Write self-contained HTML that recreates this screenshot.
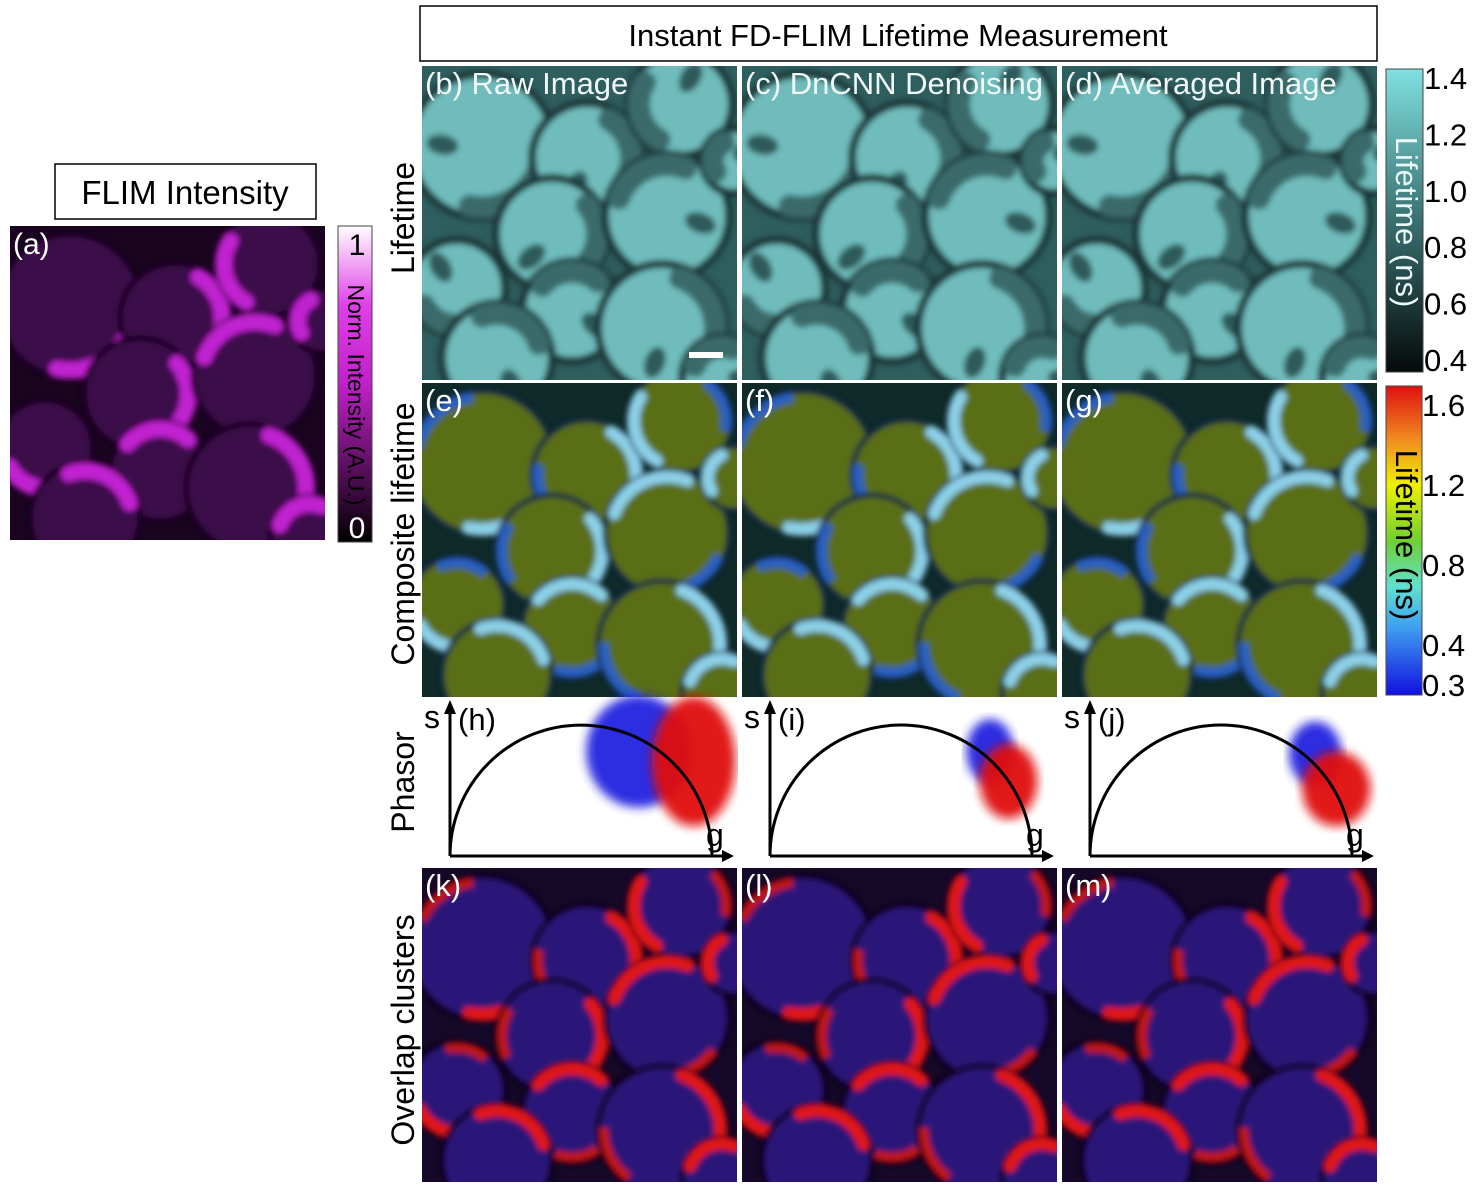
<!DOCTYPE html>
<html><head><meta charset="utf-8"><style>
body{margin:0;background:#fff;width:1480px;height:1184px;overflow:hidden;font-family:"Liberation Sans",sans-serif;}
</style></head><body>
<svg id="fig" width="1480" height="1184" xmlns="http://www.w3.org/2000/svg" font-family="Liberation Sans, sans-serif">
<defs>
<linearGradient id="gMag" x1="0" y1="1" x2="0" y2="0"><stop offset="0" stop-color="#000"/><stop offset="0.5" stop-color="#c020c8"/><stop offset="0.75" stop-color="#e040e8"/><stop offset="1" stop-color="#fff"/></linearGradient>
<linearGradient id="gCyan" x1="0" y1="1" x2="0" y2="0"><stop offset="0" stop-color="#050a0a"/><stop offset="0.5" stop-color="#3a7070"/><stop offset="1" stop-color="#80e0e0"/></linearGradient>
<linearGradient id="gRain" x1="0" y1="1" x2="0" y2="0"><stop offset="0" stop-color="#1010e0"/><stop offset="0.22" stop-color="#40a0f0"/><stop offset="0.35" stop-color="#60e0d0"/><stop offset="0.5" stop-color="#70d030"/><stop offset="0.68" stop-color="#f0f000"/><stop offset="0.82" stop-color="#f09020"/><stop offset="1" stop-color="#e01010"/></linearGradient>
<filter id="blur3"><feGaussianBlur stdDeviation="3"/></filter>
<filter id="blur6"><feGaussianBlur stdDeviation="5"/></filter>
<clipPath id="clipP"><rect x="0" y="0" width="315" height="314"/></clipPath>
</defs>
<g id="panels"></g>
<rect x="55" y="164" width="261" height="55" fill="#fff" stroke="#000" stroke-width="1.5"/>
<text x="185" y="204" font-size="33" text-anchor="middle">FLIM Intensity</text>
<rect x="420" y="6" width="957" height="55" fill="#fff" stroke="#000" stroke-width="1.5"/>
<text x="898" y="46" font-size="31" text-anchor="middle">Instant FD-FLIM Lifetime Measurement</text>
<text transform="translate(414,218) rotate(-90)" font-size="32" text-anchor="middle">Lifetime</text>
<text transform="translate(414,534) rotate(-90)" font-size="32" text-anchor="middle">Composite lifetime</text>
<text transform="translate(414,782) rotate(-90)" font-size="32" text-anchor="middle">Phasor</text>
<text transform="translate(414,1030) rotate(-90)" font-size="32" text-anchor="middle">Overlap clusters</text>
<rect x="338" y="226" width="34" height="316" fill="url(#gMag)" stroke="#444"/>
<text x="357" y="255" font-size="30" text-anchor="middle">1</text>
<text x="357" y="538" font-size="30" text-anchor="middle" fill="#fff">0</text>
<text transform="translate(348,395) rotate(90)" font-size="23" text-anchor="middle">Norm. Intensity (A.U.)</text>
<rect x="1386" y="69" width="37" height="303" fill="url(#gCyan)" stroke="#444"/>
<text transform="translate(1396,222) rotate(90)" font-size="31" text-anchor="middle" fill="#eaf8f8">Lifetime (ns)</text>
<rect x="1386" y="386" width="36" height="309" fill="url(#gRain)" stroke="#444"/>
<text transform="translate(1396,535) rotate(90)" font-size="31" text-anchor="middle">Lifetime (ns)</text>
<g id="ticks"></g>
</svg>
<script>
const NS='http://www.w3.org/2000/svg';
const fig=document.getElementById('panels');
function mk(tag,attrs,parent){const e=document.createElementNS(NS,tag);for(const k in attrs)e.setAttribute(k,attrs[k]);(parent||fig).appendChild(e);return e;}
const cyanTicks=['1.4','1.2','1.0','0.8','0.6','0.4'];
const cyanTickV=[1.4,1.2,1.0,0.8,0.6,0.4];
const rainTicks=['1.6','1.2','0.8','0.4','0.3'];
const rainTickV=[1.6,1.2,0.8,0.4,0.3];
const tk=document.getElementById('ticks');
const cyanY=v=>360-(v-0.4)*282;
const rainY=v=>v>=0.4?645-(v-0.4)*200:645+(0.4-v)*400;
cyanTicks.forEach((t,i)=>{const y=cyanY(cyanTickV[i]);const e=mk('text',{x:1424,y:y+11,'font-size':31},tk);e.textContent=t;

});
rainTicks.forEach((t,i)=>{const y=rainY(rainTickV[i]);const e=mk('text',{x:1422,y:y+11,'font-size':31},tk);e.textContent=t;

});

const cellX=[60,165,258,130,245,312,35,150,240,75,300];
const cellY=[80,92,38,168,150,95,222,245,262,292,310];
const cellR=[72,55,52,56,62,32,48,50,64,55,40];
const arcA=[10,-60,120,-40,200,150,60,220,-70,250,200];

function panel(px,py,kind,label,name){
  const g=mk('g',{transform:`translate(${px},${py})`});
  
  
  const c=mk('g',{'clip-path':'url(#clipP)'},g);
  const st={
    mag:{bg:'#1a0420',fill:'#3a0848',edge:'#c020d0',ring:'#12031a',ew:16},
    cyan:{bg:'#2f5e5e',fill:'#6fbcbc',edge:'#3a6a6a',ring:'#1a3838',ew:22},
    comp:{bg:'#0f2a28',fill:'#5a6e16',edge:'#8cd0e8',ring:'#0a2540',ew:12},
    over:{bg:'#150828',fill:'#2a1878',edge:'#e01818',ring:'#0e0518',ew:12}
  }[kind];
  mk('rect',{x:0,y:0,width:315,height:314,fill:st.bg},c);
  const cg=mk('g',{filter:'url(#blur3)'},c);
  cellX.forEach((x,i)=>{
    const y=cellY[i],r=cellR[i];
    mk('circle',{cx:x,cy:y,r:r,fill:st.fill,stroke:st.ring,'stroke-width':kind==='cyan'?8:5},cg);
    const a=arcA[i]*Math.PI/180,a2=a+1.6;
    const rr=r-st.ew/2;
    mk('path',{d:`M${x+rr*Math.cos(a)},${y+rr*Math.sin(a)} A${rr},${rr} 0 0 1 ${x+rr*Math.cos(a2)},${y+rr*Math.sin(a2)}`,fill:'none',stroke:st.edge,'stroke-width':st.ew,'stroke-linecap':'round'},cg);
    if(kind==='comp'){
      const b=a+3.2,b2=b+1.2;
      mk('path',{d:`M${x+(r-6)*Math.cos(b)},${y+(r-6)*Math.sin(b)} A${r-6},${r-6} 0 0 1 ${x+(r-6)*Math.cos(b2)},${y+(r-6)*Math.sin(b2)}`,fill:'none',stroke:'#2a60c0','stroke-width':10},cg);
    }
    if(kind==='over'){
      const b=a+3.4,b2=b+1.0;
      mk('path',{d:`M${x+(r-6)*Math.cos(b)},${y+(r-6)*Math.sin(b)} A${r-6},${r-6} 0 0 1 ${x+(r-6)*Math.cos(b2)},${y+(r-6)*Math.sin(b2)}`,fill:'none',stroke:'#c01818','stroke-width':9},cg);
    }
    if(kind==='cyan'){
      const b=a+3.0;
      mk('ellipse',{cx:x+(r*0.55)*Math.cos(b),cy:y+(r*0.55)*Math.sin(b),rx:16,ry:10,fill:'#2e5a5a',transform:`rotate(${arcA[i]} ${x+(r*0.55)*Math.cos(b)} ${y+(r*0.55)*Math.sin(b)})`},cg);
    }
  });
  const t=mk('text',{x:3,y:28,'font-size':kind==='mag'?30:31,fill:kind==='cyan'?'#f0f8f8':'#fff','xml:space':'preserve'},g);
  t.textContent=label;
  
  
  return g;
}
const colX=[422,742,1062];
panel(10,226,'mag','(a)','panel-a-intensity');
const rowT=['(b)  Raw Image','(c) DnCNN Denoising','(d)  Averaged Image'];
colX.forEach((x,i)=>panel(x,66,'cyan',rowT[i],'lifetime-panel-'+i));
['(e)','(f)','(g)'].forEach((l,i)=>panel(colX[i],383,'comp',l,'composite-panel-'+i));
['(k)','(l)','(m)'].forEach((l,i)=>panel(colX[i],868,'over',l,'overlap-panel-'+i));
mk('rect',{x:689,y:352,width:34,height:6,fill:'#fff'});

const blueG=[0.72,0.84,0.86];
const blueS=[0.42,0.42,0.41];
const blueSpreadG=[0.20,0.09,0.10];
const blueSpreadS=[0.45,0.26,0.26];
const redG=[0.93,0.91,0.94];
const redS=[0.38,0.30,0.27];
const redSpreadG=[0.16,0.11,0.13];
const redSpreadS=[0.52,0.30,0.30];
const phLabels=['(h)','(i)','(j)'];
colX.forEach((px,i)=>{
  const g=mk('g',{});
  
  
  const ox=px+28,oy=856,R=131;
  const gx=v=>ox+v*2*R, sy=v=>oy-v*2*R*0.95;
  const cb=mk('ellipse',{cx:gx(blueG[i]),cy:sy(blueS[i]),rx:blueSpreadG[i]*2*R,ry:blueSpreadS[i]*R*0.95,fill:'#2020e0',filter:'url(#blur6)',opacity:0.95},g);
  
  const cr=mk('ellipse',{cx:gx(redG[i]),cy:sy(redS[i]),rx:redSpreadG[i]*2*R,ry:redSpreadS[i]*R*0.95,fill:'#e01010',filter:'url(#blur6)',opacity:0.95},g);
  
  mk('rect',{x:px+316,y:698,width:5,height:170,fill:'#fff'},g);
  mk('rect',{x:px,y:866,width:320,height:2,fill:'#fff'},g);
  const arc=mk('path',{d:`M${ox},${oy} A${R},${R} 0 0 1 ${ox+2*R},${oy}`,fill:'none',stroke:'#000','stroke-width':3},g);
  
  mk('line',{x1:ox,y1:oy,x2:ox,y2:706,stroke:'#000','stroke-width':3},g);
  mk('path',{d:`M${ox-6},${714} L${ox},${700} L${ox+6},${714}Z`,fill:'#000'},g);
  mk('line',{x1:ox,y1:oy,x2:ox+2*R+14,y2:oy,stroke:'#000','stroke-width':3},g);
  mk('path',{d:`M${ox+2*R+10},${oy-6} L${ox+2*R+22},${oy} L${ox+2*R+10},${oy+6}Z`,fill:'#000'},g);
  const s=mk('text',{x:px+2,y:728,'font-size':32},g);s.textContent='s';
  
  const gg=mk('text',{x:ox+2*R-6,y:846,'font-size':32},g);gg.textContent='g';
  
  const l=mk('text',{x:ox+8,y:730,'font-size':31},g);l.textContent=phLabels[i];
  
});
</script>
</body></html>
